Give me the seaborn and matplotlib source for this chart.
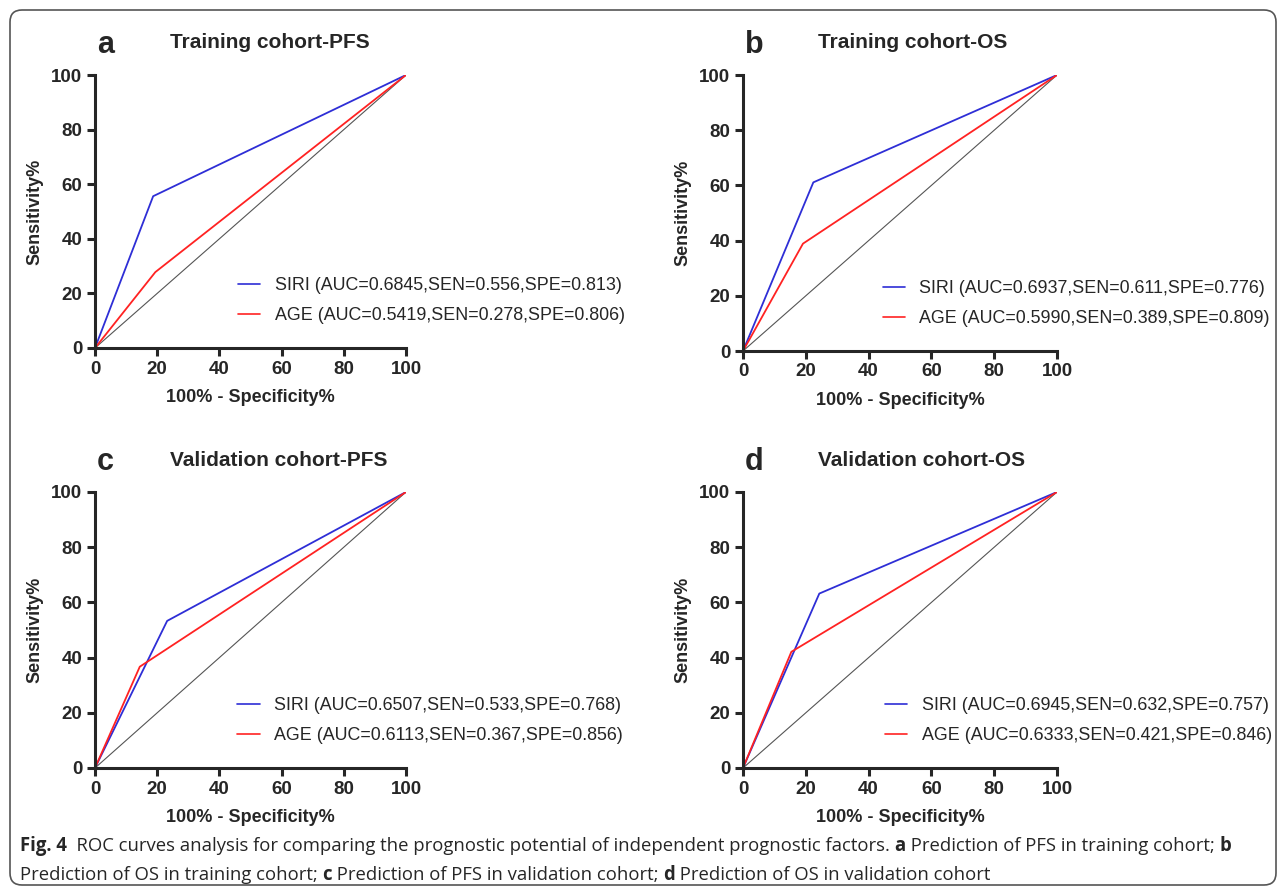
"""
roc_panels.py

ROC curves (SIRI vs AGE) for training / validation cohorts, four panels.
"""

import matplotlib
matplotlib.use("Agg")
import matplotlib.pyplot as plt
from matplotlib.patches import FancyBboxPatch
import pandas as pd
import seaborn as sns

# -----------------------------
# Data
# -----------------------------
panel_letters = ["a", "b", "c", "d"]
panel_titles = ["Training cohort-PFS", "Training cohort-OS",
                "Validation cohort-PFS", "Validation cohort-OS"]

# cut-off points on the ROC curves (100% - specificity%, sensitivity%)
siri_fpr = [18.7, 22.4, 23.2, 24.3]
siri_tpr = [55.6, 61.1, 53.3, 63.2]
age_fpr = [19.4, 19.1, 14.4, 15.4]
age_tpr = [27.8, 38.9, 36.7, 42.1]

siri_auc = ["0.6845", "0.6937", "0.6507", "0.6945"]
siri_sen = ["0.556", "0.611", "0.533", "0.632"]
siri_spe = ["0.813", "0.776", "0.768", "0.757"]
age_auc = ["0.5419", "0.5990", "0.6113", "0.6333"]
age_sen = ["0.278", "0.389", "0.367", "0.421"]
age_spe = ["0.806", "0.809", "0.856", "0.846"]

ticks = [0, 20, 40, 60, 80, 100]

caption_line1 = [("Fig. 4", True),
                 ("  ROC curves analysis for comparing the prognostic potential of "
                  "independent prognostic factors. ", False),
                 ("a", True), (" Prediction of PFS in training cohort; ", False),
                 ("b", True)]
caption_line2 = [("Prediction of OS in training cohort; ", False), ("c", True),
                 (" Prediction of PFS in validation cohort; ", False), ("d", True),
                 (" Prediction of OS in validation cohort", False)]

# -----------------------------
# Style
# -----------------------------
sns.set_theme(style="ticks")
plt.rcParams["font.family"] = ["Liberation Sans", "DejaVu Sans"]
CAPTION_FONT = ["Open Sans", "DejaVu Sans"]
BLUE, RED = "#2e2ed6", "#ff2222"

W, H = 1287, 893
fig = plt.figure(figsize=(W / 100, H / 100), dpi=100)

# axes boxes in pixels: left, top, right, bottom
boxes = [(95, 75, 406, 348), (743, 75, 1057, 351),
         (95, 492, 406, 768), (743, 492, 1057, 768)]
legend_x = [0.460, 0.445, 0.457, 0.452]


def px_axes(box):
    l, t, r, b = box
    return fig.add_axes([l / W, (H - b) / H, (r - l) / W, (b - t) / H])


for i, box in enumerate(boxes):
    l, t, r, b = box
    ax = px_axes(box)
    df = pd.DataFrame({
        "fpr": [0, siri_fpr[i], 100] + [0, age_fpr[i], 100],
        "tpr": [0, siri_tpr[i], 100] + [0, age_tpr[i], 100],
        "marker": ["SIRI"] * 3 + ["AGE"] * 3,
    })
    labels = {
        "SIRI": f"SIRI (AUC={siri_auc[i]},SEN={siri_sen[i]},SPE={siri_spe[i]})",
        "AGE": f"AGE (AUC={age_auc[i]},SEN={age_sen[i]},SPE={age_spe[i]})",
    }
    df["marker"] = df["marker"].map(labels)

    # reference diagonal
    ax.plot([0, 100], [0, 100], color="#555555", lw=0.8, zorder=1)
    sns.lineplot(data=df, x="fpr", y="tpr", hue="marker",
                 palette=[BLUE, RED], lw=1.3, sort=False,
                 estimator=None, ax=ax, zorder=2)

    ax.set_xlim(0, 100)
    ax.set_ylim(0, 100)
    ax.set_xticks(ticks)
    ax.set_yticks(ticks)
    ax.set_xlabel("100% - Specificity%", fontsize=13, fontweight="bold",
                  labelpad=8)
    ax.set_ylabel("Sensitivity%", fontsize=13, fontweight="bold", labelpad=6)
    sns.despine(ax=ax)
    for s in ("left", "bottom"):
        ax.spines[s].set_linewidth(2.2)
    ax.tick_params(direction="out", length=6, width=2.2, labelsize=13.5, pad=3)
    for lab in ax.get_xticklabels() + ax.get_yticklabels():
        lab.set_fontweight("bold")

    leg = ax.legend(loc="upper left",
                    bbox_to_anchor=(legend_x[i], 71 / (b - t)),
                    frameon=False, fontsize=12.9, handlelength=1.25,
                    handletextpad=0.8, labelspacing=0.72, borderpad=0,
                    borderaxespad=0)
    for line in leg.get_lines():
        line.set_linewidth(1.2)

    fig.text((l + 2) / W, 1 - (t - 22) / H, panel_letters[i], fontsize=22,
             fontweight="bold", va="baseline", ha="left")
    fig.text((l + 75) / W, 1 - (t - 32) / H, panel_titles[i], fontsize=15,
             fontweight="bold", va="center", ha="left")

# -----------------------------
# Caption with mixed bold
# -----------------------------
renderer = fig.canvas.get_renderer()


def draw_caption(parts, x0, y0, size):
    x = x0
    for txt, bold in parts:
        t = fig.text(x / W, 1 - y0 / H, txt, fontsize=size,
                     fontweight="bold" if bold else "normal",
                     family=CAPTION_FONT, va="center", ha="left")
        x += t.get_window_extent(renderer).width
    return x


def caption_width(parts, size):
    tmp = [fig.text(0, 0, txt, fontsize=size,
                    fontweight="bold" if bold else "normal",
                    family=CAPTION_FONT) for txt, bold in parts]
    w = sum(t.get_window_extent(renderer).width for t in tmp)
    for t in tmp:
        t.remove()
    return w


size = 12.0
size = size * (1228 - 20) / caption_width(caption_line1, size)
draw_caption(caption_line1, 20, 846, size)
draw_caption(caption_line2, 20, 875, size)

# rounded frame around the whole figure
frame = FancyBboxPatch((10, 8), W - 21, H - 18,
                       boxstyle="round,pad=0,rounding_size=12",
                       transform=None, fill=False, edgecolor="#555555", lw=1.2)
fig.patches.append(frame)

fig.savefig("out.png", dpi=100)
plt.close(fig)
